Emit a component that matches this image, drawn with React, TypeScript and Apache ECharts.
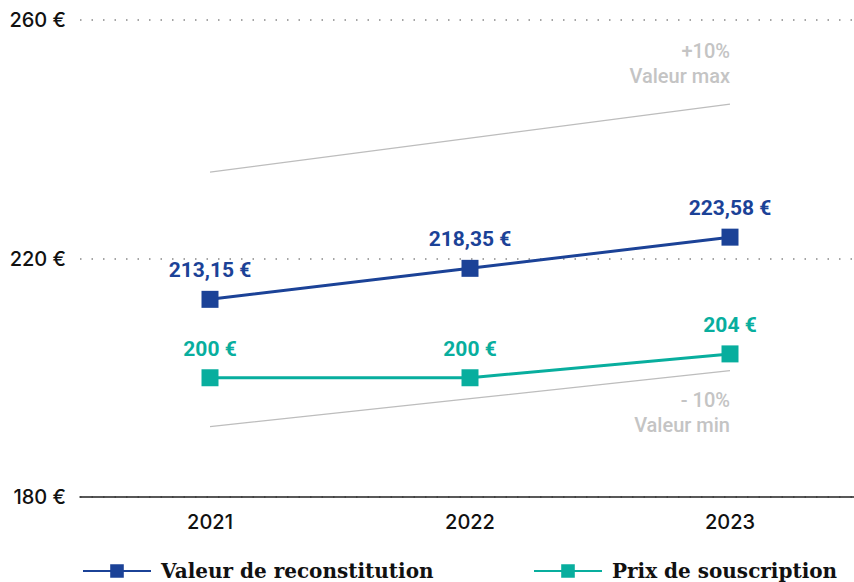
import React, { useEffect, useRef } from "react";
import * as echarts from "echarts";

const years = ["2021", "2022", "2023"];
const valeurReconstitution = [213.15, 218.35, 223.58];
const prixSouscription = [200, 200, 204];
const valeurMax = [234.5, 240.2, 245.9];
const valeurMin = [191.8, 196.5, 201.2];
const yTicks = [180, 220, 260];

const BLUE = "#1b4297";
const TEAL = "#08ae9e";
const GREY = "#c4c4c4";
const LABEL_FONT = "Roboto, sans-serif";

const fmt = (v: number) =>
  (Number.isInteger(v) ? String(v) : v.toFixed(2).replace(".", ",")) + " €";

export default function App() {
  const ref = useRef<HTMLDivElement>(null);
  useEffect(() => {
    if (!ref.current) return;
    const chart = echarts.init(ref.current, null, { renderer: "svg" });
    const last = years.length - 1;
    const legendText = {
      fontFamily: "'DejaVu Serif', serif",
      fontWeight: "bold",
      fontSize: 20,
      color: "#111",
      padding: [0, 0, 0, 5],
    };
    chart.setOption({
      animation: false,
      grid: { left: 80, right: 2, top: 20, bottom: 85, containLabel: false },
      legend: [
        {
          data: ["Valeur de reconstitution"],
          left: 82,
          top: 561,
          padding: 0,
          itemWidth: 68,
          itemHeight: 17,
          textStyle: legendText,
        },
        {
          data: ["Prix de souscription"],
          left: 533,
          top: 561,
          padding: 0,
          itemWidth: 68,
          itemHeight: 17,
          textStyle: legendText,
        },
      ],
      xAxis: {
        type: "category",
        data: years,
        boundaryGap: true,
        axisLine: { show: true, lineStyle: { color: "#222", width: 1.5 } },
        axisTick: { show: false },
        axisLabel: { fontFamily: "Inter, sans-serif", fontSize: 20, fontWeight: 500, color: "#111", margin: 15 },
      },
      yAxis: {
        type: "value",
        min: yTicks[0],
        max: yTicks[yTicks.length - 1],
        interval: yTicks[1] - yTicks[0],
        axisLine: { show: false },
        axisTick: { show: false },
        axisLabel: {
          fontFamily: "Inter, sans-serif",
          fontSize: 20,
          fontWeight: 500,
          color: "#111",
          margin: 14,
          formatter: (v: number) => v + " €",
        },
        splitLine: { show: true, lineStyle: { color: "#888", type: [1.5, 10], width: 1.5 } },
      },
      series: [
        {
          name: "Valeur max",
          type: "line",
          data: valeurMax.map((v, i) =>
            i === last
              ? {
                  value: v,
                  label: {
                    show: true,
                    position: "top",
                    align: "right",
                    distance: 16,
                    formatter: "+10%\nValeur max",
                    color: GREY,
                    fontFamily: LABEL_FONT,
                    fontWeight: 500,
                    fontSize: 20,
                    lineHeight: 25,
                  },
                }
              : v
          ),
          symbol: "circle",
          symbolSize: 0,
          showSymbol: true,
          silent: true,
          lineStyle: { color: "#bdbdbd", width: 1.2 },
          z: 1,
        },
        {
          name: "Valeur min",
          type: "line",
          data: valeurMin.map((v, i) =>
            i === last
              ? {
                  value: v,
                  label: {
                    show: true,
                    position: "bottom",
                    align: "right",
                    distance: 17,
                    formatter: "- 10%\nValeur min",
                    color: GREY,
                    fontFamily: LABEL_FONT,
                    fontWeight: 500,
                    fontSize: 20,
                    lineHeight: 25,
                  },
                }
              : v
          ),
          symbol: "circle",
          symbolSize: 0,
          showSymbol: true,
          silent: true,
          lineStyle: { color: "#bdbdbd", width: 1.2 },
          z: 1,
        },
        {
          name: "Valeur de reconstitution",
          type: "line",
          data: valeurReconstitution,
          symbol: "rect",
          symbolSize: 17,
          itemStyle: { color: BLUE },
          lineStyle: { color: BLUE, width: 3 },
          label: {
            show: true,
            position: "top",
            distance: 10,
            color: BLUE,
            fontFamily: LABEL_FONT,
            fontWeight: "bold",
            fontSize: 21,
            formatter: (p: any) => fmt(p.value),
          },
          z: 3,
        },
        {
          name: "Prix de souscription",
          type: "line",
          data: prixSouscription,
          symbol: "rect",
          symbolSize: 17,
          itemStyle: { color: TEAL },
          lineStyle: { color: TEAL, width: 3 },
          label: {
            show: true,
            position: "top",
            distance: 10,
            color: TEAL,
            fontFamily: LABEL_FONT,
            fontWeight: "bold",
            fontSize: 21,
            formatter: (p: any) => fmt(p.value),
          },
          z: 3,
        },
      ],
    });
    return () => chart.dispose();
  }, []);
  return (
    <div
      style={{ position: "absolute", left: 0, top: 0, width: 854, height: 582, overflow: "hidden", background: "#fff" }}
    >
      <div ref={ref} style={{ width: 862, height: 582 }} />
    </div>
  );
}
